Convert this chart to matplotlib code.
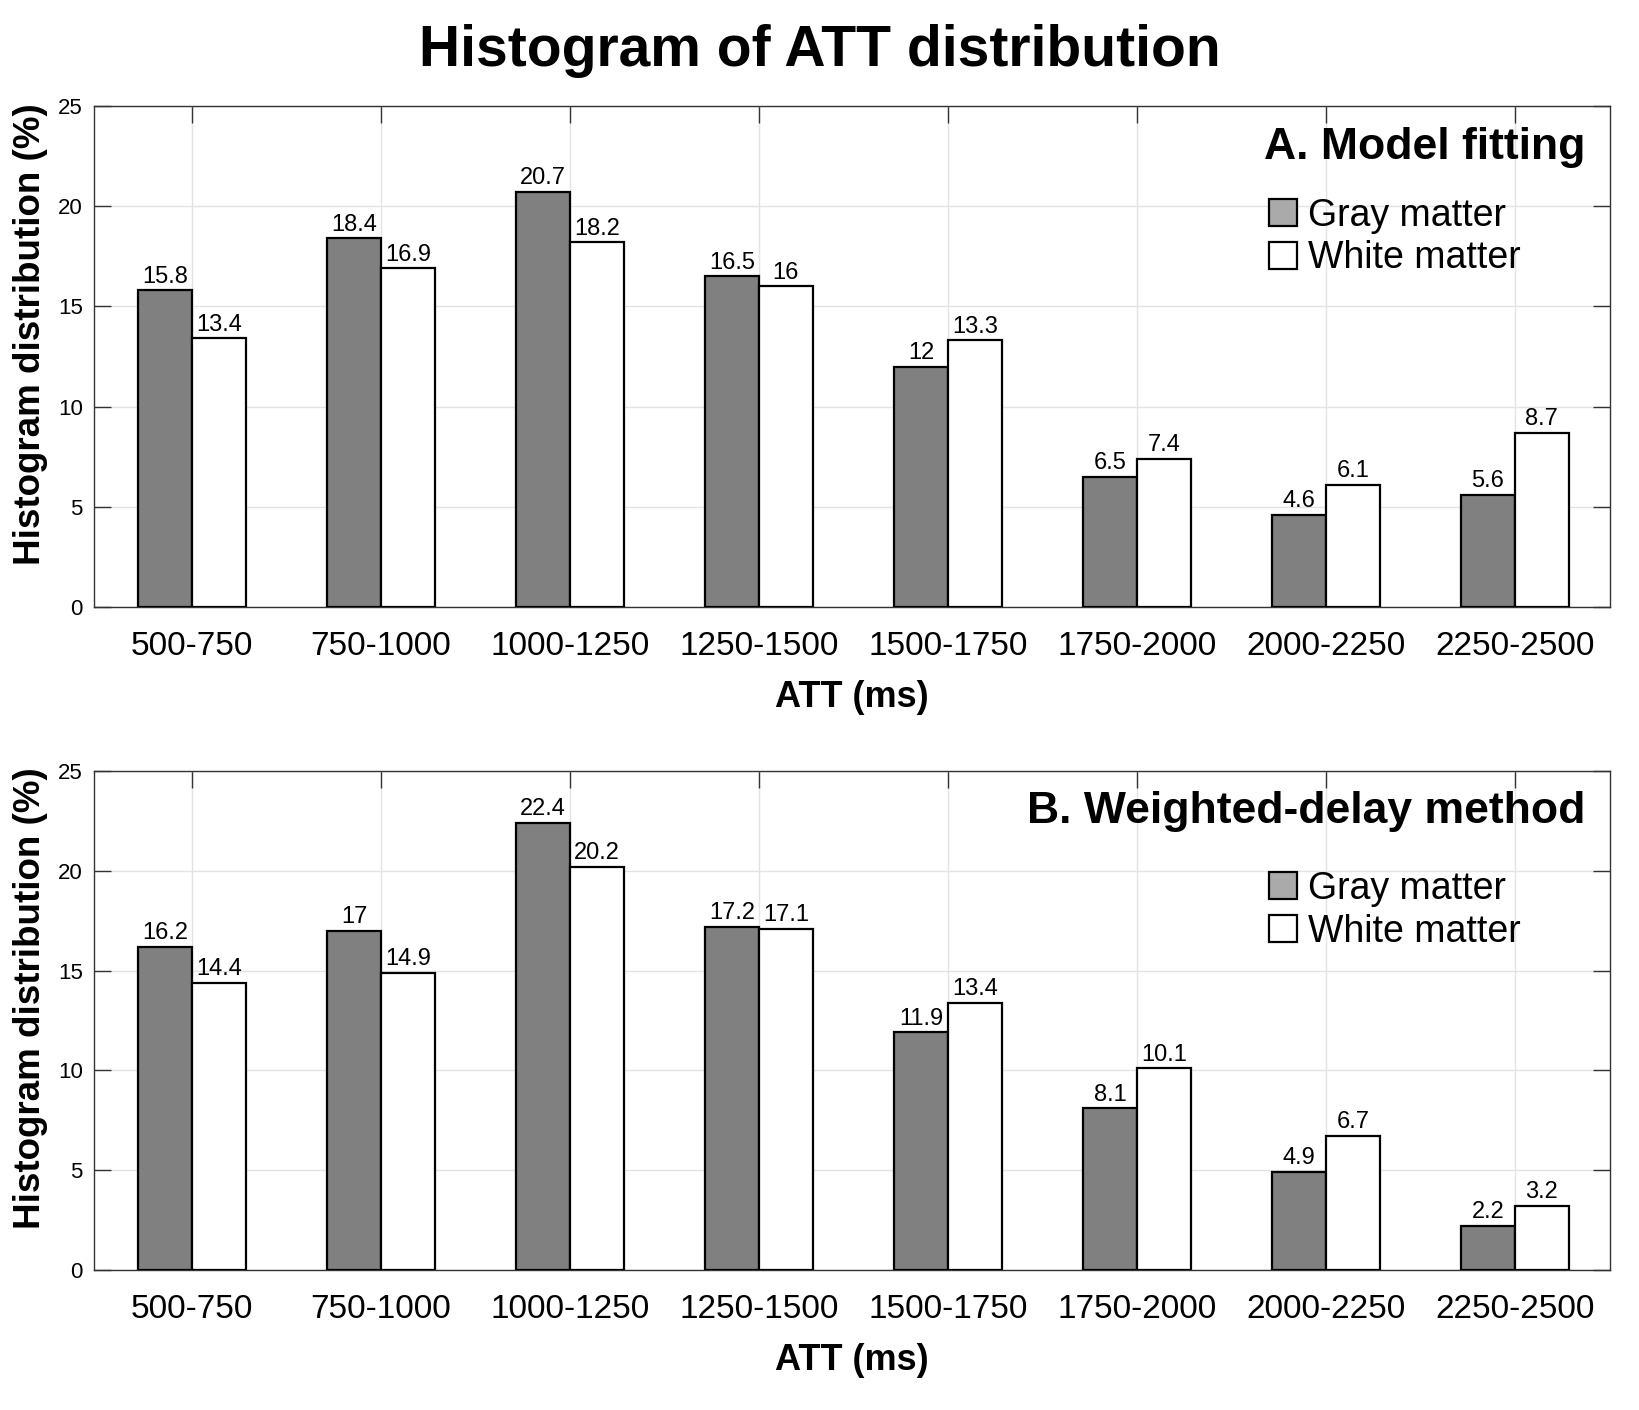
import matplotlib
matplotlib.use("Agg")
import matplotlib.pyplot as plt
import numpy as np
from matplotlib.patches import Patch

plt.rcParams['font.family'] = ['Liberation Sans', 'DejaVu Sans']

bins = ["500-750", "750-1000", "1000-1250", "1250-1500",
        "1500-1750", "1750-2000", "2000-2250", "2250-2500"]
gm_fit = [15.8, 18.4, 20.7, 16.5, 12, 6.5, 4.6, 5.6]
wm_fit = [13.4, 16.9, 18.2, 16, 13.3, 7.4, 6.1, 8.7]
gm_wd = [16.2, 17, 22.4, 17.2, 11.9, 8.1, 4.9, 2.2]
wm_wd = [14.4, 14.9, 20.2, 17.1, 13.4, 10.1, 6.7, 3.2]
panels = ["A. Model fitting", "B. Weighted-delay method"]
series_names = ["Gray matter", "White matter"]

GRAY = "#808080"
W = 0.285


def fmt(v):
    return f"{v:g}"


def draw_panel(ax, gm, wm, label, leg_y):
    x = np.arange(1, len(bins) + 1)
    b1 = ax.bar(x - W / 2, gm, W, color=GRAY, edgecolor="black", lw=1.6, zorder=3)
    b2 = ax.bar(x + W / 2, wm, W, color="white", edgecolor="black", lw=1.6, zorder=3)
    for bars, vals in ((b1, gm), (b2, wm)):
        for r, v in zip(bars, vals):
            ax.annotate(fmt(v), (r.get_x() + r.get_width() / 2, v),
                        xytext=(0, 2), textcoords="offset points",
                        ha="center", va="bottom", fontsize=17, zorder=4)
    ax.set_xlim(0.481, 8.503)
    ax.set_ylim(0, 25)
    ax.set_yticks(range(0, 26, 5))
    ax.set_xticks(x)
    ax.set_xticklabels(bins, fontsize=24)
    ax.tick_params(axis="y", labelsize=16)
    ax.tick_params(direction="in", length=12, width=1, color="#333333",
                   top=True, right=True, pad=8)
    ax.tick_params(axis="x", pad=17)
    ax.grid(True, color="#e3e3e3", lw=1, zorder=0)
    ax.set_axisbelow(True)
    for s in ax.spines.values():
        s.set_color("#333333")
        s.set_linewidth(1)
    ax.set_xlabel("ATT (ms)", fontsize=26, fontweight="bold", labelpad=13)
    ax.set_ylabel("Histogram distribution (%)", fontsize=26.5, fontweight="bold")
    ax.yaxis.set_label_coords(-0.030, 0.544)
    ax.text(0.984, 0.918, label, transform=ax.transAxes, ha="right", va="center",
            fontsize=32, fontweight="bold", zorder=5)
    handles = [Patch(facecolor="#aaaaaa", edgecolor="black", lw=1.6),
               Patch(facecolor="white", edgecolor="black", lw=1.6)]
    ax.legend(handles, series_names, loc="upper left", bbox_to_anchor=(0.775, leg_y),
              frameon=False, fontsize=27, handlelength=0.75, handleheight=0.75,
              handletextpad=0.3, labelspacing=0.18, borderpad=0, borderaxespad=0)


fig = plt.figure(figsize=(16.4, 14.1), dpi=100)
ax1 = fig.add_axes([0.0573, 0.5695, 0.9244, 0.3553])
ax2 = fig.add_axes([0.0573, 0.0993, 0.9244, 0.3539])
draw_panel(ax1, gm_fit, wm_fit, panels[0], 0.817)
draw_panel(ax2, gm_wd, wm_wd, panels[1], 0.80)
fig.text(0.5, 0.964, "Histogram of ATT distribution", ha="center", va="center",
         fontsize=41, fontweight="bold")
fig.savefig("out.png", dpi=100)
